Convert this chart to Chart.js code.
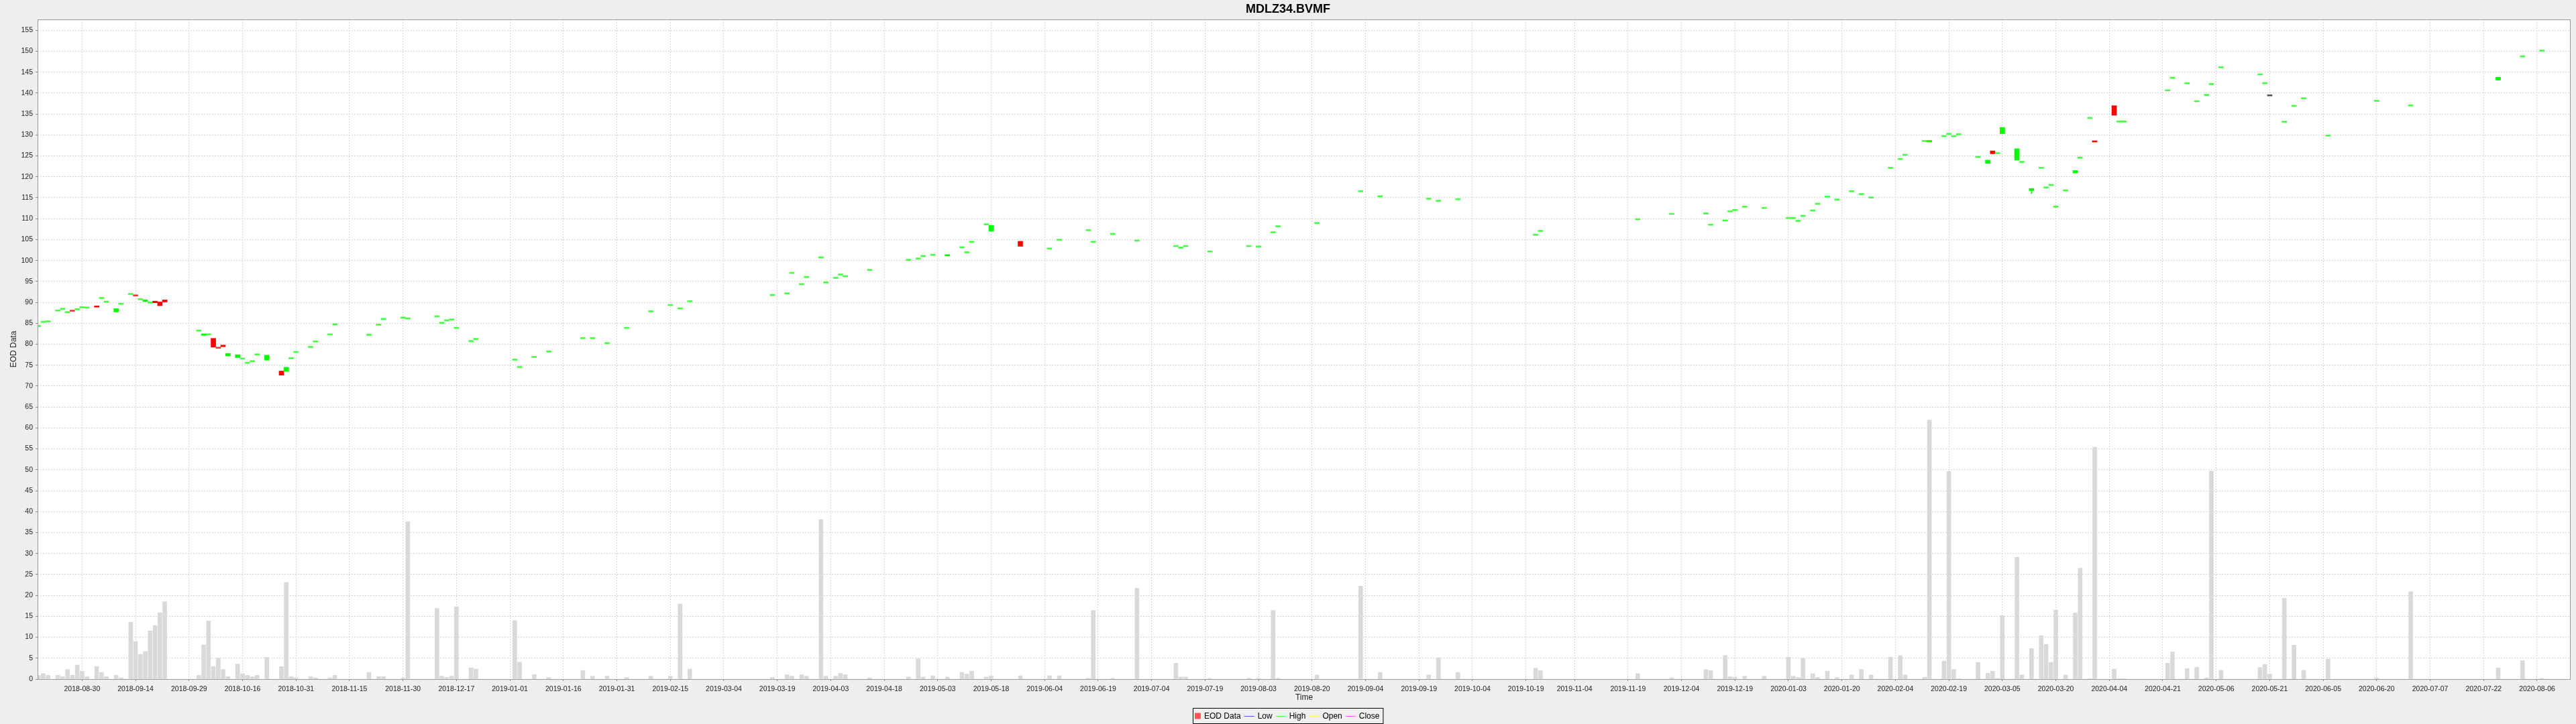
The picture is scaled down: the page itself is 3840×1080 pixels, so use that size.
<!DOCTYPE html>
<html>
<head>
<meta charset="utf-8">
<title>MDLZ34.BVMF</title>
<script src="https://cdn.jsdelivr.net/npm/chart.js"></script>
<style>
  html, body { margin: 0; padding: 0; background: #eeeeee; }
  #wrap { width: 3840px; height: 1080px; }
</style>
</head>
<body>
<div id="wrap"><canvas id="eodChart" width="3840" height="1080"></canvas></div>
<script>
// trading days (one row per month)
var dates = [
  '2018-08-17','2018-08-20','2018-08-21','2018-08-23','2018-08-24','2018-08-27','2018-08-28','2018-08-29','2018-08-30','2018-08-31',
  '2018-09-04','2018-09-05','2018-09-06','2018-09-10','2018-09-11','2018-09-13','2018-09-14','2018-09-17','2018-09-18','2018-09-19','2018-09-20','2018-09-21','2018-09-24',
  '2018-10-03','2018-10-04','2018-10-05','2018-10-08','2018-10-09','2018-10-10','2018-10-11','2018-10-15','2018-10-16','2018-10-17','2018-10-18','2018-10-19','2018-10-23','2018-10-26','2018-10-29','2018-10-30','2018-10-31',
  '2018-11-05','2018-11-06','2018-11-09','2018-11-12','2018-11-21','2018-11-23','2018-11-26','2018-11-30',
  '2018-12-03','2018-12-11','2018-12-12','2018-12-13','2018-12-14','2018-12-17','2018-12-20','2018-12-21',
  '2019-01-02','2019-01-03','2019-01-08','2019-01-11','2019-01-22','2019-01-24','2019-01-29',
  '2019-02-04','2019-02-11','2019-02-15','2019-02-19','2019-02-21',
  '2019-03-18','2019-03-21','2019-03-22','2019-03-26','2019-03-27',
  '2019-04-01','2019-04-02','2019-04-04','2019-04-05','2019-04-08','2019-04-15','2019-04-25','2019-04-29','2019-04-30',
  '2019-05-02','2019-05-07','2019-05-10','2019-05-13','2019-05-14','2019-05-17','2019-05-20','2019-05-28',
  '2019-06-05','2019-06-07','2019-06-17','2019-06-18','2019-06-24',
  '2019-07-01','2019-07-11','2019-07-12','2019-07-15','2019-07-22',
  '2019-08-01','2019-08-05','2019-08-08','2019-08-09','2019-08-21',
  '2019-09-03','2019-09-09','2019-09-23','2019-09-25',
  '2019-10-01','2019-10-23','2019-10-24',
  '2019-11-21',
  '2019-12-02','2019-12-11','2019-12-12','2019-12-17','2019-12-18','2019-12-19','2019-12-23','2019-12-27',
  '2020-01-03','2020-01-06','2020-01-07','2020-01-08','2020-01-10','2020-01-13','2020-01-15','2020-01-17','2020-01-22','2020-01-24','2020-01-28',
  '2020-02-03','2020-02-05','2020-02-06','2020-02-12','2020-02-13','2020-02-18','2020-02-19','2020-02-20','2020-02-21','2020-02-27',
  '2020-03-02','2020-03-03','2020-03-04','2020-03-05','2020-03-10','2020-03-11','2020-03-13','2020-03-17','2020-03-18','2020-03-19','2020-03-20','2020-03-24','2020-03-26','2020-03-27','2020-03-31',
  '2020-04-01','2020-04-07','2020-04-08','2020-04-09','2020-04-22','2020-04-23','2020-04-28','2020-04-30',
  '2020-05-04','2020-05-05','2020-05-07','2020-05-19','2020-05-20','2020-05-21','2020-05-26','2020-05-28',
  '2020-06-01','2020-06-08','2020-06-22',
  '2020-07-01','2020-07-27',
  '2020-08-03','2020-08-07'
];

var openPrice = [
  84.2, 85.2, 85.3, 87.9, 88.3, 87.5, 88.1, 88.2, 88.7, 88.6,
  89.15, 90.9, 90.0, 87.7, 89.5, 91.85, 91.75, 90.6, 90.2, 89.8, 90.3, 90.1, 90.6,
  83.1, 82.1, 82.2, 81.4, 79.2, 79.8, 77.2, 76.8, 76.4, 75.4, 75.8, 77.4, 76.2, 73.6, 73.5, 76.5, 78.0,
  79.2, 80.5, 82.2, 84.6, 82.1, 84.5, 85.9, 86.2,
  86.0, 86.5, 84.95, 85.55, 85.75, 83.75, 80.6, 81.1,
  76.15, 74.4, 76.8, 78.1, 81.3, 81.3, 80.1,
  83.75, 87.7, 89.2, 88.4, 90.1,
  91.6, 92.0, 96.9, 94.2, 95.9,
  100.6, 94.6, 95.7, 96.5, 96.1, 97.6, 100.0, 100.3, 100.9,
  101.2, 101.1, 103.0, 101.8, 104.3, 108.5, 107.0, 104.6,
  102.7, 104.8, 107.1, 104.3, 106.2,
  104.6, 103.3, 102.9, 103.3, 102.0,
  103.3, 103.2, 106.6, 108.0, 108.8,
  116.4, 115.2, 114.6, 114.1,
  114.5, 106.0, 106.9,
  109.7,
  111.0, 111.1, 108.4, 109.4, 111.6, 111.9, 112.7, 112.4,
  110.0, 110.0, 109.3, 110.5, 111.8, 113.4, 115.1, 114.4, 116.4, 115.7, 114.9,
  122.0, 124.1, 125.1, 128.4, 128.3, 129.55, 130.1, 129.55, 130.0, 124.6,
  123.2, 126.2, 125.5, 130.3, 124.0, 123.4, 116.7, 122.0, 117.3, 117.9, 112.7, 116.6, 120.9, 124.4, 133.9,
  128.6, 137.0, 133.05, 133.05, 140.5, 143.5, 142.2, 137.9,
  139.4, 142.0, 146.0, 144.3, 142.2, 139.3, 133.0, 136.8,
  138.6, 129.7, 138.0,
  136.9, 143.1,
  148.6, 150.0
];

var closePrice = [
  84.4, 85.4, 85.5, 88.0, 88.5, 87.7, 87.85, 88.4, 88.9, 88.8,
  88.85, 91.1, 90.2, 88.5, 89.7, 92.1, 91.5, 90.8, 90.6, 90.0, 89.9, 89.2, 90.1,
  83.3, 82.5, 82.4, 79.3, 79.0, 79.4, 77.8, 77.5, 76.6, 75.6, 76.0, 77.6, 77.4, 72.6, 74.5, 76.7, 78.2,
  79.4, 80.7, 82.4, 84.8, 82.3, 84.7, 86.1, 86.4,
  86.2, 86.7, 85.15, 85.75, 85.95, 83.95, 80.8, 81.3,
  76.35, 74.6, 77.0, 78.3, 81.5, 81.5, 80.3,
  83.95, 87.9, 89.4, 88.6, 90.3,
  91.8, 92.2, 97.1, 94.4, 96.1,
  100.8, 94.8, 95.9, 96.7, 96.3, 97.8, 100.2, 100.5, 101.1,
  101.4, 101.4, 103.2, 102.0, 104.5, 108.7, 108.4, 103.4,
  102.9, 105.0, 107.3, 104.5, 106.4,
  104.8, 103.5, 103.1, 103.5, 102.2,
  103.5, 103.4, 106.8, 108.2, 109.0,
  116.6, 115.4, 114.8, 114.3,
  114.7, 106.2, 107.1,
  109.9,
  111.2, 111.3, 108.6, 109.6, 111.8, 112.1, 112.9, 112.6,
  110.2, 110.2, 109.5, 110.7, 112.0, 113.6, 115.3, 114.6, 116.6, 115.9, 115.1,
  122.2, 124.3, 125.3, 128.6, 128.7, 129.75, 130.3, 129.75, 130.2, 124.8,
  124.0, 125.5, 125.7, 131.8, 126.7, 123.6, 117.2, 122.2, 117.5, 118.1, 112.9, 116.8, 121.5, 124.6, 134.1,
  128.3, 134.7, 133.25, 133.25, 140.7, 143.7, 142.4, 138.1,
  139.6, 142.2, 146.2, 144.5, 142.4, 139.3, 133.2, 137.0,
  138.8, 129.9, 138.2,
  137.1, 143.8,
  148.8, 150.2
];

var volume = [
  0.9, 1.3, 0.9, 0.9, 0.6, 2.3, 0.9, 3.35, 1.9, 0.6,
  3.0, 1.6, 0.6, 0.9, 0.3, 13.6, 9.0, 5.9, 6.6, 11.5, 12.8, 15.85, 18.5,
  0.9, 8.2, 13.9, 3.0, 5.0, 2.3, 0.6, 3.6, 1.3, 0.9, 0.6, 0.9, 5.2, 3.0, 23.1, 0.6, 0.3,
  0.6, 0.3, 0.3, 0.9, 1.6, 0.6, 0.6, 0.3,
  37.6, 16.9, 0.7, 0.4, 0.7, 17.3, 2.7, 2.4,
  14.0, 4.05, 1.06, 0.4, 2.06, 0.7, 0.7,
  0.4, 0.7, 0.7, 17.95, 2.4,
  0.4, 1.06, 0.7, 1.06, 0.7,
  38.1, 0.7, 0.7, 1.4, 1.06, 0.3, 0.5, 4.85, 0.5,
  0.8, 0.5, 1.6, 1.2, 1.9, 0.5, 0.8, 0.8,
  0.8, 0.8, 0.2, 16.4, 0.2,
  21.7, 3.8, 0.5, 0.5, 0.2,
  0.2, 0.2, 16.4, 0.2, 1.0,
  22.2, 1.6, 1.0, 5.1,
  1.6, 2.6, 2.0,
  1.3,
  0.3, 2.3, 2.0, 5.6, 0.6, 0.4, 0.7, 0.7,
  5.25, 0.7, 0.4, 5.0, 1.3, 0.4, 1.9, 0.4, 1.0, 2.3, 1.0,
  5.25, 5.6, 1.0, 0.4, 61.9, 4.3, 49.6, 2.3, 0.1, 4.0,
  1.4, 1.9, 0.2, 15.2, 29.1, 1.0, 7.3, 10.4, 8.3, 4.0, 16.5, 1.0, 15.8, 26.5, 0.1,
  55.4, 2.4, 0.1, 0.1, 3.8, 6.5, 2.5, 2.8,
  0.3, 49.7, 2.1, 2.8, 3.5, 1.2, 19.3, 8.1,
  2.1, 4.8, 0.3,
  20.9, 2.7,
  4.4, 0.2
];

// the only high/low shadow that sticks out of its body
var wickDates = ['2020-03-13'];
var wickLow = [116.0];
var wickHigh = [117.2];

var tickDates = [
  '2018-08-30','2018-09-14','2018-09-29','2018-10-16','2018-10-31','2018-11-15','2018-11-30','2018-12-17',
  '2019-01-01','2019-01-16','2019-01-31','2019-02-15','2019-03-04','2019-03-19','2019-04-03','2019-04-18',
  '2019-05-03','2019-05-18','2019-06-04','2019-06-19','2019-07-04','2019-07-19','2019-08-03','2019-08-20',
  '2019-09-04','2019-09-19','2019-10-04','2019-10-19','2019-11-04','2019-11-19','2019-12-04','2019-12-19',
  '2020-01-03','2020-01-20','2020-02-04','2020-02-19','2020-03-05','2020-03-20','2020-04-04','2020-04-21',
  '2020-05-06','2020-05-21','2020-06-05','2020-06-20','2020-07-07','2020-07-22','2020-08-06'
];

var legendLabels = ['EOD Data', 'Low', 'High', 'Open', 'Close'];
var legendColors = ['#ff5555', '#5555ff', '#55ff55', '#ffff55', '#ff55ff'];

// the time axis skips weekends: position = weekdays counted from 2018-08-30
function dayNumber(s) {
  var p = s.split('-');
  return Date.UTC(+p[0], +p[1] - 1, +p[2]) / 86400000;
}
var BASE_DAY = dayNumber('2018-08-30');
function dayIndex(s) {
  var d = dayNumber(s);
  var dow = new Date(d * 86400000).getUTCDay();
  if (dow === 6) d += 2;
  if (dow === 0) d += 1;
  var weeks = Math.floor((d - BASE_DAY) / 7);
  var idx = weeks * 5;
  var cur = BASE_DAY + weeks * 7;
  while (cur < d) {
    cur++;
    var w = new Date(cur * 86400000).getUTCDay();
    if (w !== 0 && w !== 6) idx++;
  }
  return idx;
}

var candleData = [], candleColors = [], volumeData = [], wickData = [];
for (var i = 0; i < dates.length; i++) {
  var x = dayIndex(dates[i]);
  var body = closePrice[i] - openPrice[i];
  candleData.push({ x: x, y: [openPrice[i], closePrice[i]] });
  if (body === 0) candleColors.push('#555555');
  else if (Math.abs(body) <= 0.25) candleColors.push(body > 0 ? '#44ff44' : '#ff3333'); // hairline bodies look paler
  else candleColors.push(body > 0 ? '#00ff00' : '#ff0000');
  volumeData.push({ x: x, y: volume[i] });
}
for (var j = 0; j < wickDates.length; j++) {
  wickData.push({ x: dayIndex(wickDates[j]), y: [wickLow[j], wickHigh[j]] });
}

var FONT = 'Liberation Sans';
Chart.defaults.font.family = FONT;

var plotBackground = {
  id: 'plotBackground',
  beforeDraw: function (chart) {
    var ctx = chart.ctx, a = chart.chartArea;
    ctx.save();
    ctx.fillStyle = '#eeeeee';
    ctx.fillRect(0, 0, chart.width, chart.height);
    ctx.fillStyle = '#ffffff';
    ctx.fillRect(a.left, a.top, a.right - a.left, a.bottom - a.top);
    ctx.restore();
  },
  afterDraw: function (chart) {
    var ctx = chart.ctx, a = chart.chartArea;
    ctx.save();
    ctx.strokeStyle = '#9a9a9a';
    ctx.lineWidth = 1;
    ctx.strokeRect(a.left + 0.5, a.top + 0.5, a.right - a.left - 1, a.bottom - a.top);
    ctx.restore();
  }
};

// boxed legend under the axis title, like the original
var boxedLegend = {
  id: 'boxedLegend',
  afterDraw: function (chart) {
    var ctx = chart.ctx;
    ctx.save();
    ctx.font = '12px "' + FONT + '"';
    var symW = [9, 15, 15, 15, 15];
    var total = 3 + 5;
    for (var k = 0; k < legendLabels.length; k++) {
      total += symW[k] + 5 + ctx.measureText(legendLabels[k]).width;
      if (k > 0) total += 5;
    }
    var x = Math.round(chart.width / 2 - total / 2), top = 1056, h = 23, mid = top + 12;
    ctx.fillStyle = '#eeeeee';
    ctx.fillRect(x, top, total, h);
    ctx.strokeStyle = '#000000';
    ctx.lineWidth = 1;
    ctx.strokeRect(x + 0.5, top + 0.5, total, h);
    var cx = x + 3;
    ctx.textBaseline = 'middle';
    for (k = 0; k < legendLabels.length; k++) {
      if (k === 0) {
        ctx.fillStyle = legendColors[k];
        ctx.fillRect(cx, mid - 4.5, 9, 9);
      } else {
        ctx.strokeStyle = legendColors[k];
        ctx.beginPath();
        ctx.moveTo(cx, mid + 0.5);
        ctx.lineTo(cx + 15, mid + 0.5);
        ctx.stroke();
      }
      cx += symW[k] + 5;
      ctx.fillStyle = '#000000';
      ctx.fillText(legendLabels[k], cx, mid + 1);
      cx += ctx.measureText(legendLabels[k]).width + 5;
    }
    ctx.restore();
  }
};

new Chart(document.getElementById('eodChart'), {
  type: 'bar',
  data: {
    datasets: [
      {
        label: 'EOD Data',
        data: candleData,
        backgroundColor: candleColors,
        barThickness: 7,
        minBarLength: 2,
        grouped: false,
        order: 1
      },
      {
        label: 'shadow',
        data: wickData,
        backgroundColor: '#00ff00',
        barThickness: 1,
        grouped: false,
        order: 2
      },
      {
        label: 'Volume',
        data: volumeData,
        backgroundColor: '#d9d9d9',
        barThickness: 6,
        grouped: false,
        order: 3
      }
    ]
  },
  options: {
    responsive: false,
    animation: false,
    devicePixelRatio: 1,
    layout: { padding: { left: 0, right: 0, top: 0, bottom: 31.8 } },
    plugins: {
      legend: { display: false },
      tooltip: { enabled: false },
      title: {
        display: true,
        text: 'MDLZ34.BVMF',
        color: '#000000',
        font: { family: FONT, size: 18, weight: 'bold' },
        padding: { top: 3, bottom: 4.4 }
      }
    },
    scales: {
      x: {
        type: 'linear',
        min: -9.16,
        max: 511.9,
        offset: false,
        grid: { offset: false, color: '#d6d6d6', lineWidth: 1, tickLength: 3, tickColor: '#8c8c8c', tickBorderDash: [] },
        border: { display: false, dash: [2, 2] },
        ticks: {
          autoSkip: false,
          maxRotation: 0,
          minRotation: 0,
          padding: 5.7,
          color: '#222222',
          font: { size: 10.5 },
          callback: function (value, index) { return tickDates[index]; }
        },
        afterBuildTicks: function (scale) {
          scale.ticks = tickDates.map(function (d) { return { value: dayIndex(d) }; });
        },
        afterFit: function (scale) { scale.height = 35.2; },
        title: { display: true, text: 'Time', color: '#222222', font: { size: 12 }, padding: { top: 0, bottom: 0 } }
      },
      y: {
        type: 'linear',
        position: 'left',
        min: 0,
        max: 157.6,
        grid: { color: '#d6d6d6', lineWidth: 1, tickLength: 3, tickColor: '#8c8c8c', tickBorderDash: [] },
        border: { display: false, dash: [2, 2] },
        ticks: { stepSize: 5, includeBounds: false, padding: 4, color: '#222222', font: { size: 10.5 } },
        afterFit: function (scale) { scale.width = 56; },
        title: { display: true, text: 'EOD Data', color: '#222222', font: { size: 12 }, padding: { top: 13, bottom: 0 } }
      },
      yRight: {
        type: 'linear',
        position: 'right',
        min: 0,
        max: 1,
        grid: { display: false },
        border: { display: false },
        ticks: { display: false },
        afterFit: function (scale) { scale.width = 8; }
      }
    }
  },
  plugins: [plotBackground, boxedLegend]
});
</script>
</body>
</html>
